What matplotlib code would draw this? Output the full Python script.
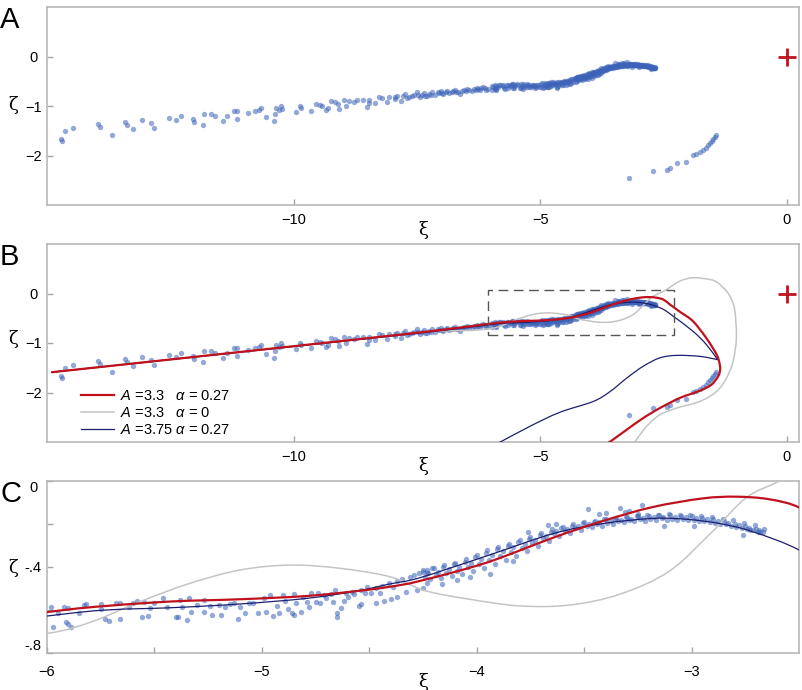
import matplotlib
matplotlib.use("Agg")
import matplotlib.pyplot as plt
from matplotlib.patches import Rectangle, PathPatch
from matplotlib.path import Path
from matplotlib.lines import Line2D

plt.rcParams['font.family'] = ['Liberation Sans', 'DejaVu Sans']
plt.rcParams['mathtext.fontset'] = 'custom'
plt.rcParams['mathtext.it'] = 'Liberation Sans:italic'
plt.rcParams['mathtext.rm'] = 'Liberation Sans'
plt.rcParams['axes.unicode_minus'] = True

# ---------------- data ----------------
tail_xi = [-14.72, -14.69, -14.64, -14.47, -13.97, -13.92, -13.68, -13.41, -13.37, -13.26,
           -13.07, -12.89, -12.84, -12.52, -12.38, -12.29, -12.04, -12.01, -11.83, -11.81,
           -11.67, -11.59, -11.44, -11.35, -11.21, -11.14, -11.14, -10.92, -10.78, -10.70,
           -10.66, -10.56, -10.40, -10.38, -10.35, -10.30, -10.25, -10.24, -9.95, -9.86,
           -9.84, -9.64, -9.54, -9.46, -9.43, -9.35, -9.31, -9.24, -9.15, -9.09,
           -9.08, -8.97, -8.94, -8.87, -8.78, -8.72, -8.60, -8.51, -8.48, -8.47,
           -8.35, -8.27, -8.20, -8.10, -8.06, -7.95]
tail_zeta = [-1.667, -1.70, -1.51, -1.44, -1.36, -1.43, -1.58, -1.33, -1.38, -1.46,
             -1.28, -1.35, -1.44, -1.24, -1.28, -1.21, -1.26, -1.33, -1.38, -1.17,
             -1.16, -1.21, -1.31, -1.20, -1.11, -1.11, -1.27, -1.14, -1.11, -1.09,
             -1.05, -1.23, -1.30, -1.17, -1.04, -1.09, -1.01, -1.06, -1.13, -0.99,
             -1.04, -1.10, -0.96, -0.97, -1.01, -1.09, -1.05, -0.90, -0.92, -0.96,
             -1.06, -0.88, -1.01, -0.89, -0.92, -0.87, -0.88, -1.03, -0.88, -0.93,
             -0.94, -0.82, -0.84, -0.92, -0.82, -0.82]

mid_xi = [-7.90, -7.83, -7.73, -7.66, -7.60, -7.56, -7.50, -7.43, -7.40, -7.36,
          -7.29, -7.25, -7.19, -7.13, -7.05, -7.02, -6.96, -6.90, -6.89, -6.79,
          -6.72, -6.70, -6.62, -6.55, -6.50, -6.48, -6.38, -6.35, -6.28, -6.21,
          -6.20, -6.15, -6.10, -6.05, -7.95, -7.78, -7.70, -7.47, -7.33, -7.22,
          -7.08, -6.98, -6.84, -6.76, -6.66, -6.58, -6.44, -6.31, -6.25, -6.12]
mid_zeta = [-0.79, -0.89, -0.76, -0.82, -0.80, -0.77, -0.72, -0.82, -0.77, -0.74,
            -0.79, -0.75, -0.72, -0.77, -0.74, -0.70, -0.76, -0.72, -0.69, -0.72,
            -0.68, -0.71, -0.76, -0.68, -0.70, -0.65, -0.69, -0.66, -0.63, -0.68,
            -0.64, -0.61, -0.67, -0.65, -0.86, -0.80, -0.84, -0.78, -0.80, -0.78,
            -0.72, -0.73, -0.74, -0.70, -0.72, -0.70, -0.68, -0.67, -0.66, -0.64]

cw_xi = [-5.98, -5.97, -5.95, -5.92, -5.91, -5.90, -5.89, -5.90, -5.85, -5.83,
         -5.82, -5.75, -5.75, -5.73, -5.71, -5.68, -5.66, -5.66, -5.62, -5.60,
         -5.58, -5.55, -5.56, -5.53, -5.52, -5.50, -5.46, -5.44, -5.40, -5.39,
         -5.38, -5.37, -5.35, -5.34, -5.33, -5.30, -5.27, -5.27, -5.24, -5.23,
         -5.20, -5.19, -5.17, -5.15, -5.13, -5.11, -5.10, -5.08, -5.06, -5.04,
         -5.02, -4.99, -4.98, -4.96, -4.95, -4.93, -4.92, -4.90, -4.89, -4.88,
         -4.86, -4.85, -4.85, -4.84, -4.82, -4.81, -4.79, -4.78, -4.77, -4.75,
         -4.74, -4.73, -4.71, -4.70, -4.68, -4.67, -4.66, -4.65, -4.65, -4.63,
         -4.62, -4.61, -4.60, -4.58, -4.57, -4.55, -4.54, -4.54, -4.52, -4.51,
         -4.49, -4.47, -4.47, -4.45, -4.44, -4.43, -4.41, -4.40, -4.39, -4.37,
         -4.37, -4.35, -4.33, -4.31, -4.29, -4.28, -4.27, -4.25, -4.23, -4.23]
cw_zeta = [-0.588, -0.681, -0.616, -0.585, -0.654, -0.665, -0.678, -0.589, -0.616, -0.577,
           -0.572, -0.572, -0.597, -0.643, -0.651, -0.566, -0.566, -0.643, -0.588, -0.569,
           -0.557, -0.561, -0.634, -0.628, -0.592, -0.569, -0.546, -0.585, -0.634, -0.631,
           -0.554, -0.588, -0.647, -0.546, -0.608, -0.577, -0.554, -0.608, -0.581, -0.623,
           -0.577, -0.623, -0.588, -0.572, -0.566, -0.640, -0.588, -0.616, -0.566, -0.569,
           -0.616, -0.546, -0.608, -0.530, -0.628, -0.581, -0.612, -0.530, -0.557, -0.597,
           -0.612, -0.526, -0.623, -0.569, -0.608, -0.538, -0.561, -0.588, -0.522, -0.561,
           -0.519, -0.569, -0.530, -0.546, -0.526, -0.561, -0.507, -0.631, -0.612, -0.592,
           -0.557, -0.522, -0.538, -0.515, -0.526, -0.581, -0.507, -0.572, -0.522, -0.495,
           -0.522, -0.569, -0.499, -0.522, -0.488, -0.557, -0.476, -0.550, -0.491, -0.464,
           -0.538, -0.457, -0.515, -0.445, -0.437, -0.507, -0.429, -0.422, -0.414, -0.429]

band_xi = [-4.25, -4.20, -4.15, -4.10, -4.05, -4.00, -3.95, -3.90, -3.85, -3.80,
           -3.75, -3.70, -3.65, -3.60, -3.55, -3.50, -3.45, -3.40, -3.35, -3.30,
           -3.25, -3.20, -3.15, -3.10, -3.05, -3.00, -2.95, -2.90, -2.85, -2.80,
           -2.75, -2.70]
band_top = [-0.415, -0.404, -0.393, -0.382, -0.362, -0.342, -0.323, -0.307, -0.291, -0.276,
            -0.259, -0.241, -0.224, -0.212, -0.202, -0.192, -0.185, -0.179, -0.173, -0.168,
            -0.164, -0.161, -0.160, -0.160, -0.162, -0.165, -0.172, -0.178, -0.187, -0.200,
            -0.211, -0.223]
band_xi2 = [-4.229, -4.181, -4.128, -4.082, -4.027, -3.981, -3.929, -3.878, -3.831, -3.777,
            -3.731, -3.678, -3.629, -3.582, -3.528, -3.479, -3.431, -3.377, -3.329, -3.281,
            -3.228, -3.177, -3.131, -3.079, -3.028, -2.981, -2.929, -2.878, -2.831, -2.779,
            -2.731, -2.684]
band_up = [-0.430, -0.423, -0.410, -0.399, -0.380, -0.361, -0.343, -0.326, -0.309, -0.293,
           -0.274, -0.254, -0.234, -0.222, -0.211, -0.200, -0.193, -0.186, -0.180, -0.175,
           -0.171, -0.168, -0.167, -0.167, -0.169, -0.172, -0.179, -0.186, -0.195, -0.206,
           -0.217, -0.229]
band_xi3 = [-4.242, -4.188, -4.141, -4.090, -4.041, -3.988, -3.941, -3.892, -3.839, -3.791,
            -3.742, -3.691, -3.639, -3.591, -3.542, -3.488, -3.439, -3.392, -3.341, -3.289,
            -3.242, -3.192, -3.139, -3.091, -3.042, -2.988, -2.941, -2.891, -2.839, -2.792,
            -2.742, -2.692]
band_low = [-0.447, -0.436, -0.429, -0.417, -0.401, -0.384, -0.366, -0.347, -0.329, -0.311,
            -0.289, -0.266, -0.244, -0.232, -0.220, -0.208, -0.200, -0.194, -0.187, -0.181,
            -0.178, -0.175, -0.174, -0.175, -0.177, -0.180, -0.187, -0.194, -0.202, -0.213,
            -0.224, -0.235]
band_xi4 = [-4.217, -4.167, -4.115, -4.067, -4.015, -3.964, -3.917, -3.866, -3.815, -3.767,
            -3.716, -3.665, -3.617, -3.566, -3.516, -3.465, -3.416, -3.365, -3.316, -3.266,
            -3.216, -3.165, -3.116, -3.066, -3.016, -2.966, -2.916, -2.866, -2.816, -2.766,
            -2.716, -2.668]
band_bot = [-0.458, -0.451, -0.444, -0.434, -0.419, -0.403, -0.388, -0.367, -0.347, -0.327,
            -0.303, -0.278, -0.254, -0.241, -0.228, -0.215, -0.207, -0.200, -0.192, -0.187,
            -0.184, -0.180, -0.180, -0.181, -0.182, -0.186, -0.193, -0.201, -0.209, -0.219,
            -0.230, -0.239]
band_xi5 = [-4.206, -4.156, -4.106, -4.056, -4.006, -3.956, -3.906, -3.856, -3.806, -3.756,
            -3.706, -3.656, -3.606, -3.556, -3.506, -3.456, -3.406, -3.356, -3.306, -3.256,
            -3.206, -3.156, -3.106, -3.056, -3.006, -2.956, -2.906, -2.856, -2.806, -2.756,
            -2.706, -2.662]
band_fringe = [-0.406, -0.399, -0.386, -0.377, -0.354, -0.337, -0.315, -0.302, -0.284, -0.272,
               -0.252, -0.237, -0.217, -0.209, -0.196, -0.189, -0.179, -0.176, -0.167, -0.165,
               -0.158, -0.158, -0.154, -0.157, -0.156, -0.162, -0.166, -0.175, -0.181, -0.197,
               -0.206, -0.221]

out_xi = [-4.25, -4.23, -4.16, -4.09, -4.03, -3.94, -3.83, -3.76, -3.67, -3.63,
          -3.48, -3.43, -3.40, -3.335, -3.31, -3.29, -3.25, -3.23, -3.13, -2.99,
          -2.76, -2.68, -2.73]
out_zeta = [-0.496, -0.473, -0.481, -0.462, -0.447, -0.434, -0.372, -0.236, -0.206, -0.202,
            -0.132, -0.155, -0.147, -0.124, -0.143, -0.140, -0.152, -0.112, -0.209, -0.209,
            -0.253, -0.236, -0.229]

br_xi = [-3.19, -2.72, -2.42, -2.37, -2.22, -2.04, -1.90, -1.83, -1.76, -1.69,
         -1.63, -1.59, -1.56, -1.52, -1.49, -1.46, -1.44]
br_zeta = [-2.456, -2.31, -2.30, -2.26, -2.15, -2.13, -1.99, -1.96, -1.92, -1.88,
           -1.84, -1.78, -1.75, -1.70, -1.67, -1.62, -1.59]

target_xi = [0.0]
target_zeta = [0.0]

red_xi = [-14.9, -10.0, -7.83, -7.0, -5.986, -5.722, -5.413, -5.102, -4.792, -4.559,
          -4.405, -4.265, -3.955, -3.645, -3.413, -3.180, -2.948, -2.793, -2.638, -2.498,
          -2.37, -2.15, -1.90, -1.63, -1.42, -1.36, -1.35, -1.39, -1.525, -1.76,
          -2.166, -2.57, -2.91, -3.245, -3.617, -3.70]
red_zeta = [-1.59, -1.065, -0.83, -0.735, -0.608, -0.581, -0.560, -0.550, -0.535, -0.512,
            -0.492, -0.465, -0.380, -0.264, -0.186, -0.121, -0.081, -0.073, -0.085, -0.124,
            -0.22, -0.38, -0.56, -0.90, -1.235, -1.42, -1.55, -1.674, -1.842, -1.964,
            -2.11, -2.314, -2.517, -2.753, -3.02, -3.08]

# navy curve: two pieces meeting in a sharp corner
navy_xi_a = [-14.9, -10.0, -7.83, -7.0, -6.0, -5.722, -5.413, -5.102, -4.792, -4.559,
             -4.405, -4.265, -3.955, -3.645, -3.413, -3.180, -3.025, -2.870, -2.715, -2.498,
             -2.30, -1.90, -1.63, -1.40]
navy_zeta_a = [-1.59, -1.07, -0.84, -0.75, -0.628, -0.600, -0.589, -0.572, -0.546, -0.512,
               -0.479, -0.450, -0.349, -0.245, -0.198, -0.174, -0.178, -0.198, -0.236, -0.322,
               -0.46, -0.763, -1.03, -1.336]
navy_xi_b = [-1.40, -1.76, -2.23, -2.57, -2.91, -3.245, -3.58, -3.92, -4.6, -5.2, -5.90]
navy_zeta_b = [-1.336, -1.27, -1.25, -1.30, -1.47, -1.71, -1.98, -2.18, -2.40, -2.68, -3.05]

gray_xi = [-14.9, -10.0, -7.83, -7.0, -6.4, -6.0, -5.79, -5.567, -5.335, -5.102,
           -4.870, -4.637, -4.405, -4.24, -4.033, -3.800, -3.568, -3.335, -3.103, -2.901,
           -2.746, -2.59, -2.435, -2.166, -1.90, -1.56, -1.40, -1.22, -1.12, -1.05,
           -1.02, -1.087, -1.22, -1.42, -1.76, -2.23, -2.57, -2.81, -2.976, -3.11,
           -3.15]
gray_zeta = [-1.59, -1.065, -0.83, -0.76, -0.745, -0.709, -0.654, -0.561, -0.476, -0.414,
             -0.391, -0.406, -0.445, -0.51, -0.550, -0.581, -0.577, -0.527, -0.419, -0.233,
             -0.078, 0.0, 0.081, 0.25, 0.318, 0.283, 0.22, 0.047, -0.12, -0.358,
             -0.897, -1.37, -1.707, -1.977, -2.18, -2.314, -2.45, -2.65, -2.854, -3.04,
             -3.10]

legend_labels = [r"$A$ =3.3   $\alpha$ = 0.27", r"$A$ =3.3   $\alpha$ = 0",
                 r"$A$ =3.75 $\alpha$ = 0.27"]

# ---------------- figure ----------------
W, H = 802, 690
fig = plt.figure(figsize=(W / 100, H / 100), dpi=100)


def add_ax(l, r, t, b):
    return fig.add_axes([l / W, 1 - b / H, (r - l) / W, (b - t) / H])


axA = add_ax(47, 799, 7, 205)
axB = add_ax(47, 799, 244, 442)
axC = add_ax(47, 799, 481, 653)

PT_COLOR = '#3d63b8'
RED = '#c0121e'
NAVY = '#1c1f6e'
GRAY = '#c4c4c4'


def smooth_line(ax, xs, ys, **kw):
    """Draw a smooth (Catmull-Rom as cubic Bezier) path through the read points."""
    pts = list(zip(xs, ys))
    n = len(pts)
    verts = [pts[0]]
    codes = [Path.MOVETO]
    for i in range(n - 1):
        p0 = pts[i - 1] if i > 0 else pts[i]
        p1 = pts[i]
        p2 = pts[i + 1]
        p3 = pts[i + 2] if i + 2 < n else pts[i + 1]
        c1 = (p1[0] + (p2[0] - p0[0]) / 6.0, p1[1] + (p2[1] - p0[1]) / 6.0)
        c2 = (p2[0] - (p3[0] - p1[0]) / 6.0, p2[1] - (p3[1] - p1[1]) / 6.0)
        verts += [c1, c2, p2]
        codes += [Path.CURVE4] * 3
    patch = PathPatch(Path(verts, codes), fill=False, capstyle='round',
                      joinstyle='round', **kw)
    ax.add_patch(patch)


def scatter_all(ax):
    groups = [(tail_xi, tail_zeta), (mid_xi, mid_zeta), (cw_xi, cw_zeta),
              (band_xi, band_top), (band_xi2, band_up), (band_xi3, band_low),
              (band_xi4, band_bot), (band_xi5, band_fringe), (out_xi, out_zeta),
              (br_xi, br_zeta)]
    for xs, ys in groups:
        ax.scatter(xs, ys, s=15, color=PT_COLOR, alpha=0.55, linewidths=0, zorder=2)


def curves(ax):
    smooth_line(ax, gray_xi, gray_zeta, ec=GRAY, lw=1.1, zorder=3)
    smooth_line(ax, navy_xi_a, navy_zeta_a, ec=NAVY, lw=0.9, zorder=3)
    smooth_line(ax, navy_xi_b, navy_zeta_b, ec=NAVY, lw=0.9, zorder=3)
    smooth_line(ax, red_xi, red_zeta, ec=RED, lw=1.6, zorder=4)


def style(ax, xpad, ypad):
    for s in ax.spines.values():
        s.set_color('#b3b3b3')
        s.set_linewidth(1.1)
    ax.tick_params(direction='in', length=4, width=1, color='#a6a6a6', labelsize=10.5)
    ax.tick_params(axis='x', pad=xpad)
    ax.tick_params(axis='y', pad=ypad)
    for lbl in ax.get_yticklabels():
        lbl.set_horizontalalignment('center')


for ax in (axA, axB):
    scatter_all(ax)
    ax.plot(target_xi, target_zeta, marker='+', color=RED, markersize=13,
            mew=2.0, linestyle='none', zorder=5)
    ax.set_xlim(-15, 0.25)
    ax.set_ylim(-3, 1)
    ax.set_xticks([-10, -5, 0])
    ax.set_yticks([0, -1, -2])
    style(ax, 6, 10)

# panel B curves
curves(axB)
axB.add_patch(Rectangle((-6.05, -0.83), 3.77, 0.91, fill=False, ec='#555555',
                        lw=1.0, ls=(0, (7, 4)), zorder=4))
handles = [Line2D([], [], color=RED, lw=1.6), Line2D([], [], color=GRAY, lw=1.1),
           Line2D([], [], color=NAVY, lw=0.9)]
axB.legend(handles, legend_labels, loc='lower left', bbox_to_anchor=(0.045, 0.025),
           frameon=False, fontsize=10.5, handlelength=2.3, handletextpad=0.4,
           labelspacing=0.2, borderpad=0, borderaxespad=0)

# panel C
scatter_all(axC)
curves(axC)
axC.set_xlim(-6, -2.5)
axC.set_ylim(-0.8, 0)
axC.set_xticks([-6, -5.5, -5, -4.5, -4, -3.5, -3])
axC.set_xticklabels(['\u22126', '', '\u22125', '', '\u22124', '', '\u22123'])
axC.set_yticks([0, -0.2, -0.4, -0.6, -0.8])
axC.set_yticklabels(['0', '', '-.4', '', '-.8'])
style(axC, 9, 10)
ylabels_c = axC.get_yticklabels()
ylabels_c[0].set_verticalalignment('top')
ylabels_c[-1].set_verticalalignment('bottom')

# axis labels and panel letters
for yc in (230, 466, 682):
    fig.text(423 / W, 1 - yc / H, '\u03be', ha='center', va='center',
             fontsize=13, family='DejaVu Serif')
for yc in (105, 339, 568):
    fig.text(13 / W, 1 - yc / H, '\u03b6', ha='center', va='center',
             fontsize=13, family='DejaVu Serif')
for letter, yt in (('A', 6), ('B', 243), ('C', 480)):
    fig.text(0 / W, 1 - yt / H, letter, ha='left', va='top', fontsize=21)

fig.savefig('out.png', dpi=100)
